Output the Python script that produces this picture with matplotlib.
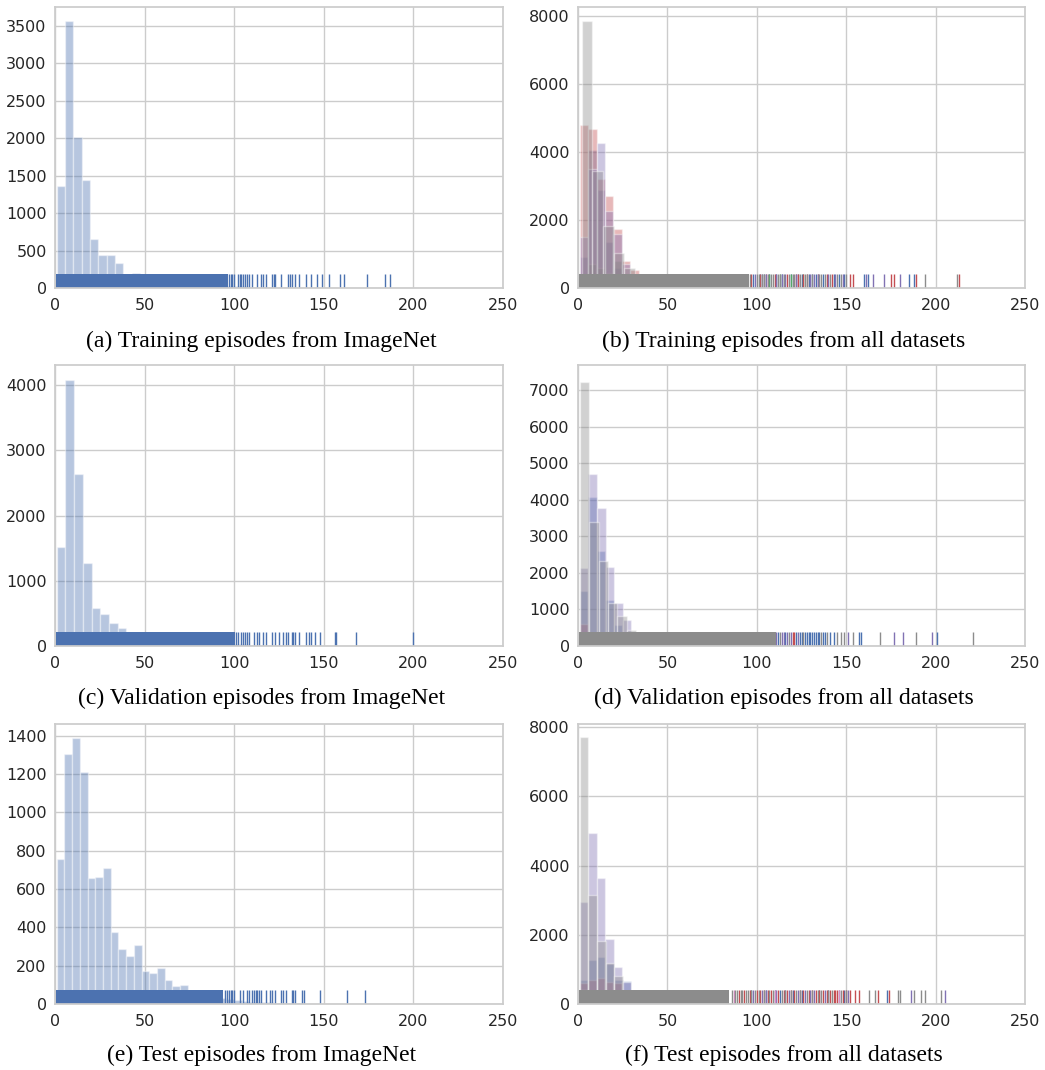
import numpy as np
import matplotlib
matplotlib.use("Agg")
import matplotlib.pyplot as plt
from matplotlib.ticker import MultipleLocator

BLUE = "#4C72B0"
GREEN = "#55A868"
RED = "#C44E52"
PURPLE = "#8172B3"
PINK = "#DA8BC3"
GRAY = "#8C8C8C"

# ---- (a) training episodes, ImageNet (40 bins between data min and max)
train_in_range = (1, 187)
train_in_counts = [1355, 3565, 2015, 1445, 655, 440, 440, 330, 175, 200,
                   150, 125, 110, 95, 80, 70, 60, 50, 42, 35,
                   30, 25, 21, 18, 15, 12, 10, 9, 8, 6,
                   5, 4, 4, 3, 2, 2, 1, 1, 1, 2]
# distinct observed values: every integer up to dense_to, plus the listed ones
train_in_dense_to = 96
train_in_extra = [97, 98, 99, 100, 102, 103, 104, 105, 106, 107, 108,
                  110, 113, 115, 116, 118, 121, 122, 123, 126, 130, 131, 132, 134,
                  136, 140, 143, 146, 149, 153, 159, 161, 174, 184, 187]

# ---- (c) validation episodes, ImageNet
val_in_range = (1, 200)
val_in_counts = [1515, 4080, 2630, 1270, 580, 490, 350, 275, 190, 170,
                 150, 130, 115, 100, 85, 75, 62, 52, 45, 38,
                 32, 27, 22, 18, 15, 12, 10, 8, 6, 5,
                 4, 3, 3, 2, 2, 1, 1, 1, 0, 0, 1]
val_in_dense_to = 100
val_in_extra = [101, 102, 104, 105, 106, 107, 108, 111, 113, 114, 116, 118,
                121, 123, 125, 127, 129, 130, 132, 133, 134, 136, 140, 142, 143,
                145, 148, 156, 157, 168, 200]

# ---- (e) test episodes, ImageNet
test_in_range = (1, 173)
test_in_counts = [757, 1305, 1386, 1209, 657, 662, 710, 375, 288, 253,
                  309, 174, 160, 188, 127, 95, 98, 60, 52, 45,
                  38, 30, 25, 20, 16, 12, 10, 8, 6, 5,
                  4, 3, 2, 2, 1, 1, 1, 0, 1, 1]
test_in_dense_to = 93
test_in_extra = [95, 96, 97, 98, 99, 100,
                 103, 105, 107, 108, 110, 111, 112, 113, 114, 115, 118, 120, 121,
                 123, 126, 127, 129, 132, 133, 134, 138, 139, 148, 163, 173]

# ---- (b) training episodes, all datasets: (color, range, counts, dense_to, extra)
train_all = [
    (BLUE, (1, 188), [900, 4050, 2880, 1350, 600, 220, 100, 50, 30, 20,
                      15, 12, 10, 8, 6, 5, 4, 3, 3, 2,
                      2, 2, 1, 1, 1, 1, 1, 1, 1, 1,
                      1, 1, 1, 1, 0, 1, 0, 1, 0, 1],
     90, [98, 102, 104, 107, 111, 114, 119, 123, 125, 129, 131, 133, 137, 143,
          146, 149, 160, 162, 185, 188]),
    (GREEN, (1, 113), [300, 700, 600, 450, 800, 150, 60, 30, 20, 12,
                       8, 6, 5, 4, 3, 2, 2, 1, 1, 1, 1, 1, 1, 1],
     60, [107, 113, 119, 126]),
    (RED, (1, 213), [4790, 4670, 3200, 2710, 1740, 800, 520, 220, 90, 50,
                     30, 20, 15, 12, 10, 8, 6, 5, 4, 3,
                     3, 2, 2, 2, 1, 1, 1, 1, 1, 1,
                     1, 1, 1, 1, 1, 1, 1, 0, 1, 0,
                     0, 0, 0, 0, 1],
     90, [97, 102, 105, 110, 117, 122, 123, 126, 128, 134, 139, 142, 152, 154,
          175, 177, 189, 213]),
    (PURPLE, (1, 180), [1500, 3500, 4260, 2250, 1600, 700, 300, 100, 50, 30,
                        20, 15, 10, 8, 6, 5, 4, 3, 2, 2,
                        2, 1, 1, 1, 1, 1, 1, 1, 1, 1,
                        1, 1, 1, 1, 0, 1, 0, 1],
     90, [99, 103, 105, 111, 114, 116, 122, 130, 132, 134, 140, 144, 148, 161,
          165, 171, 180]),
    (GRAY, (2, 212), [7830, 3440, 1820, 1040, 590, 390, 150, 60, 30, 20,
                      10, 8, 6, 5, 4, 3, 3, 2, 2, 2,
                      1, 1, 1, 1, 1, 1, 1, 1, 0, 1,
                      0, 1, 0, 0, 1],
     95, [96, 100, 101, 103, 104, 106, 108, 109, 112, 113, 115, 118, 120, 121,
          124, 127, 128, 131, 135, 136, 138, 141, 145, 147, 150, 194, 212]),
]

# ---- (d) validation episodes, all datasets
val_all = [
    (BLUE, (1, 201), [1500, 4070, 2610, 1250, 570, 300, 120, 60, 30, 20,
                      15, 12, 10, 8, 6, 5, 4, 3, 3, 2,
                      2, 2, 1, 1, 1, 1, 1, 1, 1, 1,
                      1, 1, 1, 1, 0, 1, 0, 1, 0, 0, 0, 1],
     90, [112, 116, 122, 124, 125, 127, 128, 129, 130, 131, 132, 133, 134,
          135, 137, 138, 141, 143, 157, 158, 201]),
    (RED, (1, 121), [600, 350, 250, 180, 120, 80, 50, 30, 20, 15,
                     10, 8, 6, 5, 4, 3, 2, 2, 1, 1, 1, 1, 1, 1, 1],
     70, [120, 121]),
    (PURPLE, (1, 198), [2140, 4720, 3780, 2160, 1180, 700, 300, 120, 60, 30,
                        20, 15, 10, 8, 6, 5, 4, 3, 2, 2,
                        2, 1, 1, 1, 1, 1, 1, 1, 1, 1,
                        1, 1, 1, 1, 0, 1, 0, 1, 0, 0, 1],
     95, [111, 114, 115, 117, 119, 123, 151, 177, 182, 198]),
    (GRAY, (1, 221), [7225, 3400, 2320, 1180, 820, 435, 150, 60, 30, 20,
                      12, 8, 6, 5, 4, 3, 3, 2, 2, 2,
                      1, 1, 1, 1, 1, 1, 1, 1, 0, 1,
                      0, 1, 0, 1, 0, 0, 1, 0, 0, 0, 0, 1],
     110, [113, 118, 126, 136, 139, 145, 147, 149, 154, 169, 189, 221]),
]

# ---- (f) test episodes, all datasets
test_all = [
    (BLUE, (1, 173), [700, 1283, 1362, 1150, 680, 675, 200, 80, 40, 25,
                      15, 10, 8, 6, 5, 4, 3, 3, 2, 2,
                      2, 1, 1, 1, 1, 1, 1, 1, 1, 1,
                      1, 0, 1, 0, 0, 1],
     80, [97, 105, 110, 113, 120, 125, 135, 140, 149, 173]),
    (RED, (1, 174), [620, 700, 750, 650, 600, 300, 150, 80, 50, 30,
                     20, 15, 12, 10, 8, 6, 5, 4, 3, 3,
                     2, 2, 2, 1, 1, 1, 1, 1, 1, 1,
                     1, 1, 1, 0, 1, 0, 1],
     80, [90, 93, 96, 100, 102, 104, 106, 108, 112, 115, 117, 119, 121, 124,
          126, 129, 131, 133, 135, 137, 139, 141, 143, 144, 145, 148, 150,
          152, 155, 157, 168, 174]),
    (PURPLE, (1, 205), [2945, 4955, 3630, 1885, 1060, 650, 250, 100, 50, 30,
                        20, 15, 10, 8, 6, 5, 4, 3, 2, 2,
                        2, 1, 1, 1, 1, 1, 1, 1, 1, 1,
                        1, 1, 1, 0, 1, 0, 1, 0, 0, 0, 0, 0, 1],
     80, [98, 103, 105, 111, 116, 118, 123, 127, 130, 132, 138, 146, 151,
          186, 205]),
    (PINK, (1, 146), [400, 300, 250, 200, 100, 60, 30, 20, 12, 8,
                      6, 5, 4, 3, 2, 2, 1, 1, 1, 1,
                      1, 1, 1, 1, 1, 1, 0, 1, 0, 1],
     70, [87, 110, 146]),
    (GRAY, (1, 203), [7710, 3140, 1815, 1190, 800, 350, 150, 60, 30, 20,
                      12, 8, 6, 5, 4, 3, 3, 2, 2, 2,
                      1, 1, 1, 1, 1, 1, 1, 1, 0, 1,
                      0, 1, 0, 1, 0, 0, 1, 0, 1, 0, 0, 1],
     84, [86, 88, 89, 91, 92, 94, 95, 97, 99, 101, 104, 107, 109, 114, 116,
          119, 122, 124, 128, 131, 134, 136, 140, 142, 147, 150, 163, 166,
          179, 180, 188, 192, 194, 203]),
]

captions = ["(a) Training episodes from ImageNet",
            "(b) Training episodes from all datasets",
            "(c) Validation episodes from ImageNet",
            "(d) Validation episodes from all datasets",
            "(e) Test episodes from ImageNet",
            "(f) Test episodes from all datasets"]

plt.rcParams.update({
    "font.family": "DejaVu Sans",
    "axes.edgecolor": "#cccccc",
    "axes.linewidth": 1.25,
    "axes.axisbelow": True,
    "grid.color": "#cccccc",
    "grid.linewidth": 1.0,
    "xtick.color": "#262626",
    "ytick.color": "#262626",
    "xtick.labelsize": 11.5,
    "ytick.labelsize": 11.5,
    "xtick.major.size": 0,
    "ytick.major.size": 0,
    "xtick.major.pad": 7,
    "ytick.major.pad": 6,
})


def draw_hist(ax, rng, counts, color):
    edges = np.linspace(rng[0], rng[1], len(counts) + 1)
    ax.hist(edges[:-1], bins=edges, weights=counts, color=color, alpha=0.4,
            edgecolor="white", linewidth=1)


def draw_rug(ax, dense_to, extra, color):
    trans = ax.get_xaxis_transform()
    # the packed block reads as a solid band in the reference
    ax.vlines(np.arange(1, dense_to + 1), 0, 0.05, transform=trans,
              colors=color, linewidth=1.45)
    ax.vlines(extra, 0, 0.05, transform=trans, colors=color, linewidth=1.0)


def style(ax, ytop, ystep):
    ax.set_xlim(0, 250)
    ax.set_ylim(0, ytop)
    ax.xaxis.set_major_locator(MultipleLocator(50))
    ax.yaxis.set_major_locator(MultipleLocator(ystep))
    ax.grid(True)


W, H = 1045, 1070
fig = plt.figure(figsize=(W / 100, H / 100), dpi=100)


def make_ax(left, top, right, bottom):
    return fig.add_axes([left / W, 1 - bottom / H, (right - left) / W, (bottom - top) / H])


rows = [(7, 288), (365, 646), (724, 1004)]
cols = [(55, 503), (578, 1025)]

ax_a = make_ax(cols[0][0], rows[0][0], cols[0][1], rows[0][1])
ax_b = make_ax(cols[1][0], rows[0][0], cols[1][1], rows[0][1])
ax_c = make_ax(cols[0][0], rows[1][0], cols[0][1], rows[1][1])
ax_d = make_ax(cols[1][0], rows[1][0], cols[1][1], rows[1][1])
ax_e = make_ax(cols[0][0], rows[2][0], cols[0][1], rows[2][1])
ax_f = make_ax(cols[1][0], rows[2][0], cols[1][1], rows[2][1])

# left column: ImageNet only
for ax, rng, counts, dense_to, extra in [
        (ax_a, train_in_range, train_in_counts, train_in_dense_to, train_in_extra),
        (ax_c, val_in_range, val_in_counts, val_in_dense_to, val_in_extra),
        (ax_e, test_in_range, test_in_counts, test_in_dense_to, test_in_extra)]:
    draw_hist(ax, rng, counts, BLUE)
    draw_rug(ax, dense_to, extra, BLUE)

# right column: one histogram + rug per dataset
for ax, series in [(ax_b, train_all), (ax_d, val_all), (ax_f, test_all)]:
    for color, rng, counts, dense_to, extra in series:
        draw_hist(ax, rng, counts, color)
        draw_rug(ax, dense_to, extra, color)

style(ax_a, 3750, 500)
style(ax_b, 8250, 2000)
style(ax_c, 4308, 1000)
style(ax_d, 7690, 1000)
style(ax_e, 1461, 200)
style(ax_f, 8094, 2000)

cap_y = [341, 698, 1055]
for i, text in enumerate(captions):
    x = 0.25 if i % 2 == 0 else 0.75
    fig.text(x, 1 - cap_y[i // 2] / H, text, ha="center", va="center",
             family="Liberation Serif", fontsize=17, color="black")

fig.savefig("out.png", dpi=100)
